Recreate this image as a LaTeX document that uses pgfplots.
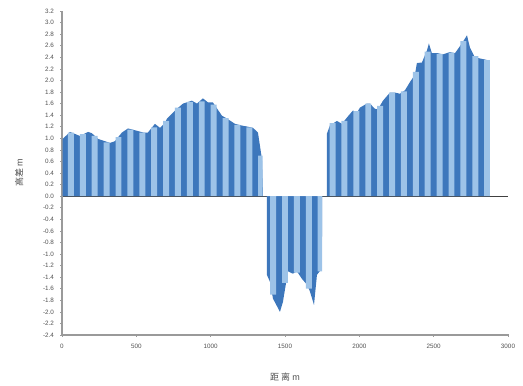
\documentclass[border=0pt]{standalone}
\usepackage{pgfplots}
\pgfplotsset{compat=1.18}
\usepackage{fontspec}
\setmainfont{Liberation Sans}
\newfontfamily\cjk{Noto Sans CJK SC}
\definecolor{darkb}{HTML}{3D77BC}
\definecolor{lightb}{HTML}{9DC3E8}
\definecolor{axgrey}{HTML}{9A9A9A}
\definecolor{txtgrey}{HTML}{505050}
\begin{document}
\begin{tikzpicture}
\begin{axis}[
  scale only axis,
  width=446pt, height=324pt,
  xmin=0, xmax=3000, ymin=-2.4, ymax=3.2,
  axis x line=bottom, axis y line=left,
  axis line style={-, axgrey, line width=1.2pt},
  xtick={0,500,...,3000},
  ytick={-2.4,-2.2,...,3.21},
  /pgf/number format/assume math mode=true,
  yticklabel style={/pgf/number format/.cd, fixed, fixed zerofill, precision=1, /tikz/.cd, xshift=-3pt},
  xticklabel style={/pgf/number format/.cd, fixed, 1000 sep={}, /tikz/.cd, yshift=-4pt},
  tick label style={font=\fontsize{6.3}{7}\selectfont, text=txtgrey},
  tick style={axgrey, line width=0.5pt},
  major tick length=3pt,
  tick align=center,
  extra y ticks={0}, extra y tick labels={},
  extra y tick style={grid=major, major grid style={black!75, line width=1.1pt}},
  xlabel={\cjk 距 离 {\rmfamily m}},
  ylabel={\cjk 高差 {\rmfamily m}},
  label style={font=\fontsize{9}{10}\selectfont, text=txtgrey},
  xlabel style={yshift=-18pt},
  ylabel style={yshift=10pt},
  clip=false,
]
\addplot[fill=darkb, draw=none] coordinates {
(5,0) (5,0.99) (54,1.11) (121,1.04) (175,1.11) (200,1.09) (242,0.99) (323,0.92) (356,0.95)
(403,1.10) (444,1.17) (504,1.13) (545,1.10) (578,1.10) (625,1.25) (659,1.18) (693,1.27)
(706,1.34) (773,1.51) (814,1.60) (874,1.65) (908,1.60) (948,1.69) (982,1.62) (1015,1.62)
(1076,1.39) (1110,1.34) (1163,1.25) (1210,1.22) (1251,1.20) (1285,1.18) (1318,1.10)
(1345,0.64) (1352,0) (1378,0)
(1378,-1.36) (1399,-1.48) (1419,-1.77) (1466,-2.0) (1486,-1.83) (1520,-1.30) (1553,-1.34)
(1580,-1.30) (1614,-1.43) (1648,-1.53) (1668,-1.65) (1695,-1.88) (1715,-1.36) (1748,-1.25)
(1750,0) (1782,0)
(1782,1.08) (1802,1.22) (1849,1.30) (1883,1.25) (1917,1.36) (1957,1.48) (1984,1.44)
(2004,1.53) (2051,1.60) (2071,1.60) (2105,1.51) (2125,1.50) (2159,1.65) (2206,1.79)
(2239,1.79) (2273,1.77) (2307,1.83) (2340,1.97) (2374,2.10) (2387,2.30) (2421,2.31)
(2455,2.52) (2468,2.64) (2488,2.47) (2529,2.47) (2562,2.45) (2609,2.49) (2643,2.47)
(2690,2.64) (2724,2.78) (2744,2.57) (2777,2.40) (2811,2.38) (2865,2.35) (2878,2.35) (2878,0)
} \closedcycle;
\addplot[ybar interval, fill=lightb, draw=none] coordinates {
(0,0) (40,1.10) (80,0) (120,1.07) (160,0) (200,1.04) (240,0) (280,0.93) (320,0)
(360,1.02) (400,0) (440,1.15) (480,0) (520,1.10) (560,0) (600,1.19) (640,0)
(680,1.30) (720,0) (760,1.53) (800,0) (840,1.63) (880,0) (920,1.64) (960,0)
(1000,1.58) (1040,0) (1080,1.35) (1120,0) (1160,1.23) (1200,0) (1240,1.19) (1280,0)
(1320,0.70) (1350,0) (1400,-1.70) (1440,0) (1480,-1.50) (1520,0) (1560,-1.32) (1600,0)
(1640,-1.60) (1680,0) (1720,-1.30) (1750,0) (1800,1.26) (1840,0) (1880,1.30) (1920,0)
(1960,1.47) (2000,0) (2040,1.60) (2080,0) (2120,1.56) (2160,0) (2200,1.79) (2240,0)
(2280,1.81) (2320,0) (2360,2.15) (2400,0) (2440,2.50) (2480,0) (2520,2.46) (2560,0)
(2600,2.48) (2640,0) (2680,2.68) (2720,0) (2760,2.42) (2800,0) (2840,2.35) (2878,0)
};
\coordinate (ll) at (rel axis cs:0,0);
\coordinate (ur) at (rel axis cs:1,1);
\end{axis}
\path (ll) ++(-62pt,-50pt) rectangle ([shift={(15pt,11pt)}]ur);
\end{tikzpicture}
\end{document}
